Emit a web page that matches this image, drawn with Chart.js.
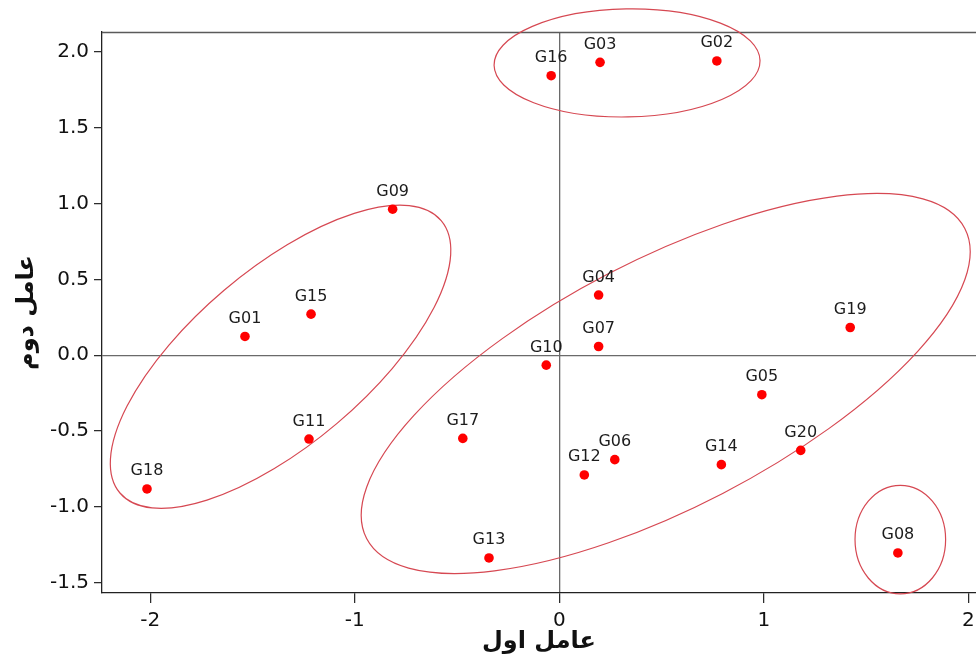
<!DOCTYPE html>
<html><head><meta charset="utf-8">
<script src="https://cdn.jsdelivr.net/npm/chart.js@4/dist/chart.umd.min.js"></script>
<style>html,body{margin:0;padding:0;background:#fff}#wrap{width:976px;height:661px;position:relative}</style>
</head><body><div id="wrap"><canvas id="c" width="976" height="661"></canvas></div>
<script>
// ---- data ----
const names   = ['G01','G02','G03','G04','G05','G06','G07','G08','G09','G10',
                 'G11','G12','G13','G14','G15','G16','G17','G18','G19','G20'];
const factor1 = [-1.537, 0.770, 0.199, 0.192, 0.990, 0.271, 0.192, 1.655, -0.815, -0.064,
                 -1.224, 0.122, -0.344, 0.792, -1.214, -0.040, -0.472, -2.016, 1.422, 1.180];
const factor2 = [0.124, 1.940, 1.931, 0.397, -0.260, -0.688, 0.058, -1.303, 0.963, -0.065,
                 -0.552, -0.789, -1.336, -0.721, 0.271, 1.843, -0.548, -0.881, 0.183, -0.627];
const xTicks = [-2, -1, 0, 1, 2];
const yTicks = [-1.5, -1.0, -0.5, 0.0, 0.5, 1.0, 1.5, 2.0];
const xTitle = 'عامل اول';
const yTitle = 'عامل دوم';
// group ellipses: centre in data units
const groupCx = [0.331, -1.363, 0.520, 1.667];
const groupCy = [1.927, -0.010, -0.186, -1.215];

// ---- styling of the group ellipses (pixels / degrees) ----
const ellipseStyle = [
  {rx: 133, ry: 54, angle: 1},
  {rx: 210.6, ry: 87.3, angle: 40.3},
  {rx: 336.9, ry: 123.8, angle: 27.4},
  {rx: 45.3, ry: 54.3, angle: 0}
];

const points = factor1.map((x, i) => ({x: x, y: factor2[i]}));

const overlay = {
  id: 'overlay',
  beforeDatasetsDraw(chart) {
    const {ctx, chartArea, scales} = chart;
    ctx.save();
    // top frame line
    ctx.strokeStyle = '#5a5a5a';
    ctx.lineWidth = 1.3;
    ctx.beginPath();
    ctx.moveTo(chartArea.left, chartArea.top + 0.5);
    ctx.lineTo(chartArea.right, chartArea.top + 0.5);
    ctx.stroke();
    // ellipses
    ctx.strokeStyle = 'rgb(214,72,82)';
    ctx.lineWidth = 1.2;
    groupCx.forEach((cx, i) => {
      const st = ellipseStyle[i];
      const px = scales.x.getPixelForValue(cx);
      const py = scales.y.getPixelForValue(groupCy[i]);
      ctx.beginPath();
      ctx.ellipse(px, py, st.rx, st.ry, -st.angle * Math.PI / 180, 0, Math.PI * 2);
      ctx.stroke();
    });
    ctx.restore();
  },
  afterDatasetsDraw(chart) {
    const {ctx} = chart;
    const meta = chart.getDatasetMeta(0);
    ctx.save();
    ctx.font = '16px "DejaVu Sans"';
    ctx.fillStyle = '#1c1c1c';
    ctx.textAlign = 'center';
    ctx.textBaseline = 'alphabetic';
    meta.data.forEach((el, i) => {
      ctx.fillText(names[i], el.x, el.y - 13.5);
    });
    ctx.restore();
  }
};

new Chart(document.getElementById('c'), {
  type: 'scatter',
  data: {
    datasets: [{
      data: points,
      backgroundColor: '#ff0000',
      borderWidth: 0,
      pointRadius: 4.8,
      pointHoverRadius: 4.8,
      clip: false
    }]
  },
  options: {
    responsive: false,
    devicePixelRatio: 1,
    animation: false,
    layout: {autoPadding: false, padding: {top: 32, left: 0, right: 0, bottom: 0}},
    plugins: {legend: {display: false}, tooltip: {enabled: false}},
    scales: {
      x: {
        type: 'linear',
        min: -2.236, max: 2.037,
        afterBuildTicks(s) { s.ticks = xTicks.map(v => ({value: v})); },
        afterFit(s) { s.height = 68; s.paddingLeft = 0; s.paddingRight = 0; },
        ticks: {
          font: {family: 'DejaVu Sans', size: 20},
          color: '#111',
          padding: 6,
          callback: v => String(v)
        },
        grid: {
          color: c => (c.tick && c.tick.value === 0) ? '#6a6a6a' : 'rgba(0,0,0,0)',
          lineWidth: 1.3,
          tickColor: '#222',
          tickLength: 10,
          tickWidth: 1.2
        },
        border: {display: true, color: '#222', width: 1.3},
        title: {
          display: true, text: xTitle, color: '#111',
          font: {family: 'DejaVu Sans', size: 24, weight: 'bold'},
          padding: {top: 0, bottom: 5}
        }
      },
      y: {
        type: 'linear',
        min: -1.567, max: 2.131,
        afterBuildTicks(s) { s.ticks = yTicks.map(v => ({value: v})); },
        afterFit(s) { s.width = 102; s.paddingTop = 0; s.paddingBottom = 0; },
        ticks: {
          font: {family: 'DejaVu Sans', size: 20},
          color: '#111',
          padding: 5,
          callback: v => Number(v).toFixed(1)
        },
        grid: {
          color: c => (c.tick && c.tick.value === 0) ? '#6a6a6a' : 'rgba(0,0,0,0)',
          lineWidth: 1.3,
          tickColor: '#222',
          tickLength: 8,
          tickWidth: 1.2
        },
        border: {display: true, color: '#222', width: 1.3},
        title: {
          display: true, text: yTitle, color: '#111',
          font: {family: 'DejaVu Sans', size: 24, weight: 'bold'},
          padding: {top: 12, bottom: 0}
        }
      }
    }
  },
  plugins: [overlay]
});
</script>
</body></html>
